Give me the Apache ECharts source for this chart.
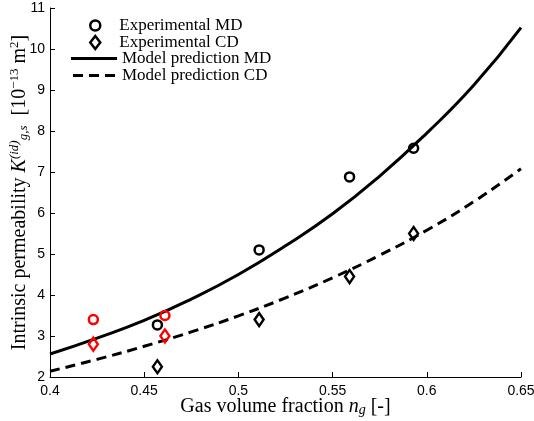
<!DOCTYPE html>
<html><head><meta charset="utf-8">
<script src="https://cdn.jsdelivr.net/npm/echarts@6/dist/echarts.min.js"></script>
<style>html,body{margin:0;padding:0;background:#fff}#c{width:534px;height:421px}</style>
</head><body><div id="c"></div>
<script>
// Experimental data (black = regular, red = highlighted)
const mdX = [0.457, 0.511, 0.559, 0.593, 0.423, 0.461];
const mdY = [3.27, 5.10, 6.88, 7.58, 3.40, 3.50];
const mdRed = [false, false, false, false, true, true];
const cdX = [0.457, 0.511, 0.559, 0.593, 0.423, 0.461];
const cdY = [2.25, 3.40, 4.45, 5.50, 2.80, 3.00];
const cdRed = [false, false, false, false, true, true];
// Model curves
const modelX = [0.40, 0.425, 0.45, 0.475, 0.50, 0.525, 0.55, 0.575, 0.60, 0.625, 0.65];
const modelMD = [2.56, 2.95, 3.38, 3.90, 4.50, 5.20, 5.98, 6.90, 7.95, 9.12, 10.52];
const modelCD = [2.14, 2.43, 2.75, 3.10, 3.49, 3.93, 4.42, 4.97, 5.58, 6.28, 7.08];
const xTicks = [0.4, 0.45, 0.5, 0.55, 0.6, 0.65];
const yTicks = [2, 3, 4, 5, 6, 7, 8, 9, 10, 11];
const legendNames = ['Experimental MD', 'Experimental CD', 'Model prediction MD', 'Model prediction CD'];

const serif = '"Liberation Serif", "DejaVu Serif", serif';
const sans = '"Liberation Sans", Arial, sans-serif';

function pts(xs, ys, red) {
  return xs.map((x, i) => ({
    value: [x, ys[i]],
    itemStyle: { borderColor: red[i] ? '#ff0000' : '#000000' }
  }));
}

const legendText = { fontFamily: serif, fontSize: 17, color: '#000', lineHeight: 16.5 };

const chart = echarts.init(document.getElementById('c'), null, { renderer: 'canvas' });
chart.setOption({
  animation: false,
  backgroundColor: '#ffffff',
  grid: { left: 50, right: 13, top: 8, bottom: 44, containLabel: false, outerBoundsMode: 'none' },
  legend: [
    {
      orient: 'vertical', left: 84, top: 12,
      itemWidth: 10, itemHeight: 13, itemGap: 0,
      textStyle: Object.assign({ padding: [0, 0, 0, 14] }, legendText),
      itemStyle: { color: 'transparent', borderColor: '#000', borderWidth: 2.5, opacity: 1 },
      data: [
        { name: legendNames[0], icon: 'circle' },
        { name: legendNames[1], icon: 'diamond' }
      ]
    },
    {
      orient: 'vertical', left: 66, top: 45,
      itemWidth: 46, itemHeight: 3, itemGap: 0,
      textStyle: legendText,
      itemStyle: { color: '#000', borderWidth: 0 },
      lineStyle: { width: 0 },
      data: [
        { name: legendNames[2], icon: 'rect' },
        { name: legendNames[3], icon: 'path://M0,0h10v3h-10z M16,0h10v3h-10z M32,0h10v3h-10z' }
      ]
    }
  ],
  xAxis: {
    type: 'value', min: xTicks[0], max: xTicks[xTicks.length - 1], interval: 0.05,
    axisLine: { onZero: false, lineStyle: { color: '#000', width: 1 } },
    axisTick: { inside: true, length: 5, lineStyle: { color: '#000' } },
    axisLabel: { color: '#000', fontFamily: sans, fontSize: 14, margin: 7 },
    splitLine: { show: false },
    name: 'Gas volume fraction {i|n}{sub|g} [-]',
    nameLocation: 'middle', nameGap: 19, nameMoveOverlap: false,
    nameTextStyle: {
      fontFamily: serif, fontSize: 20, color: '#000',
      rich: {
        i: { fontFamily: serif, fontSize: 20, fontStyle: 'italic' },
        sub: { fontFamily: serif, fontSize: 14, fontStyle: 'italic', padding: [7, 0, 0, 0] }
      }
    }
  },
  yAxis: {
    type: 'value', min: yTicks[0], max: yTicks[yTicks.length - 1], interval: 1,
    axisLine: { onZero: false, lineStyle: { color: '#000', width: 1 } },
    axisTick: { inside: true, length: 5, lineStyle: { color: '#000' } },
    axisLabel: { color: '#000', fontFamily: sans, fontSize: 14, margin: 5 },
    splitLine: { show: false },
    name: 'Intrinsic permeability {i|K}{sup|(id)}{sub|g,s}  [10{sup2|−13} m{sup2|2}]',
    nameLocation: 'middle', nameGap: 19, nameRotate: 90, nameMoveOverlap: false,
    nameTextStyle: {
      fontFamily: serif, fontSize: 20, color: '#000',
      rich: {
        i: { fontFamily: serif, fontSize: 20, fontStyle: 'italic' },
        sup: { fontFamily: serif, fontSize: 13, fontStyle: 'italic', padding: [0, 0, 10, 0] },
        sub: { fontFamily: serif, fontSize: 13, fontStyle: 'italic', padding: [8, 0, 0, 0] },
        sup2: { fontFamily: serif, fontSize: 13, padding: [0, 0, 10, 0] }
      }
    }
  },
  series: [
    {
      name: legendNames[0], type: 'scatter', symbol: 'circle', symbolSize: 9,
      itemStyle: { color: 'transparent', borderColor: '#000', borderWidth: 2.5, opacity: 1 },
      data: pts(mdX, mdY, mdRed), z: 5
    },
    {
      name: legendNames[1], type: 'scatter', symbol: 'diamond', symbolSize: [9, 13],
      itemStyle: { color: 'transparent', borderColor: '#000', borderWidth: 2.5, opacity: 1 },
      data: pts(cdX, cdY, cdRed), z: 5
    },
    {
      name: legendNames[2], type: 'line', smooth: true, showSymbol: false, symbol: 'none',
      lineStyle: { color: '#000', width: 3, type: 'solid' },
      itemStyle: { color: '#000' },
      data: modelX.map((x, i) => [x, modelMD[i]])
    },
    {
      name: legendNames[3], type: 'line', smooth: true, showSymbol: false, symbol: 'none',
      lineStyle: { color: '#000', width: 3, type: [10, 6] },
      itemStyle: { color: '#000' },
      data: modelX.map((x, i) => [x, modelCD[i]])
    }
  ]
});
</script></body></html>
